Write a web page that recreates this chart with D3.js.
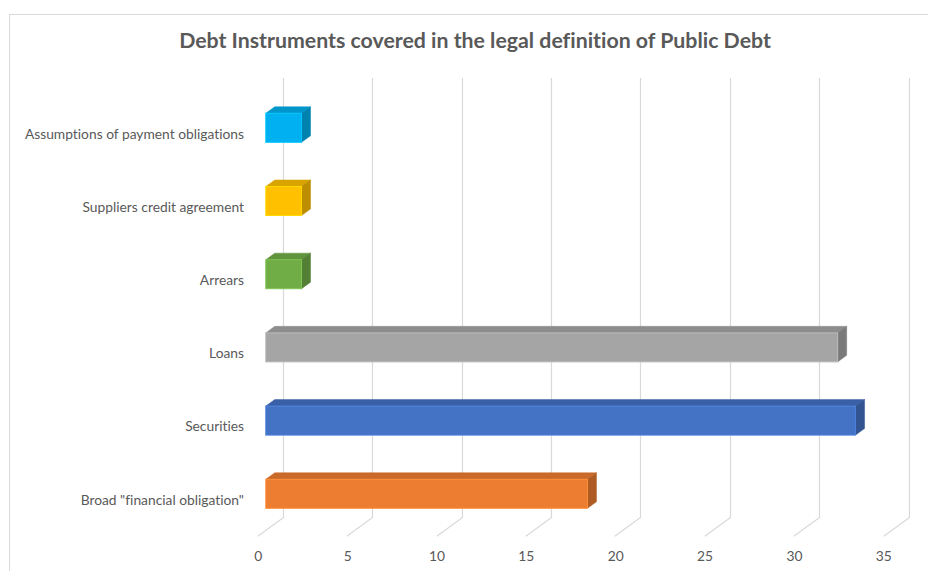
<!DOCTYPE html>
<html>
<head>
<meta charset="utf-8">
<script src="https://cdn.jsdelivr.net/npm/d3@7"></script>
<style>
  html, body { margin: 0; padding: 0; background: #fff; }
  svg { display: block; }
  text { font-variant-ligatures: none; font-feature-settings: "liga" 0; }
</style>
</head>
<body>
<script>
// ---- Data ----
const categories = [
  "Assumptions of payment obligations",
  "Suppliers credit agreement",
  "Arrears",
  "Loans",
  "Securities",
  "Broad \"financial obligation\""
];
const values = [2, 2, 2, 32, 33, 18];
const barColors = ["#00B0F0", "#FFC000", "#70AD47", "#A5A5A5", "#4472C4", "#ED7D31"];
const tickValues = [0, 5, 10, 15, 20, 25, 30, 35];
const title = "Debt Instruments covered in the legal definition of Public Debt";

// ---- Layout ----
const W = 928, H = 571;
const svg = d3.select("body").append("svg").attr("width", W).attr("height", H);

// chart border (clipped by the window at right/bottom)
svg.append("rect")
  .attr("x", 9.5).attr("y", 14.5)
  .attr("width", 930).attr("height", 570)
  .attr("fill", "none").attr("stroke", "#d9d9d9").attr("stroke-width", 1);

const textColor = "#595959";
const gridColor = "#d9d9d9";

// value scale on the back wall plane
const backX0 = 283;
const x = d3.scaleLinear().domain([0, 35]).range([backX0, backX0 + 625.5]);
// depth of the floor (front -> back): dx, dy
const depthDX = 25.7, depthDY = -18.7;
const gridTop = 78, gridBottom = 517.5;

// bars: front face at depth fraction f1, back at f2
const f1 = 0.33, f2 = 0.68;

const y = d3.scalePoint().domain(categories).range([127.8, 493.8]);
const barH = 29;

// gridlines
const grid = svg.append("g");
tickValues.forEach(v => {
  const bx = Math.round(x(v)) + 0.5;
  grid.append("path")
    .attr("d", `M${bx},${gridTop} L${bx},${gridBottom} L${bx - depthDX},${gridBottom - depthDY}`)
    .attr("fill", "none").attr("stroke", gridColor).attr("stroke-width", 1.2);
});

// tick labels (front)
svg.append("g").selectAll("text").data(tickValues).join("text")
  .attr("x", d => x(d) - depthDX + 1)
  .attr("y", 556)
  .attr("dy", "0.35em")
  .attr("text-anchor", "middle")
  .attr("font-family", "Lato, 'Open Sans', sans-serif")
  .attr("font-size", 13.8)
  .attr("fill", textColor)
  .text(d => d);

// bars
const bars = svg.append("g");
categories.forEach((c, i) => {
  const col = d3.color(barColors[i]);
  const topCol = col.darker(0.45);
  const sideCol = col.darker(0.85);
  const edgeCol = col.brighter(0.35);
  const fx = (v) => x(v) - depthDX * (1 - f1);
  const ox = depthDX * (f2 - f1), oy = depthDY * (f2 - f1);
  const x0 = fx(0), x1 = fx(values[i]);
  const yTop = y(c) - barH / 2, yBot = y(c) + barH / 2;
  // top face
  bars.append("path")
    .attr("d", `M${x0},${yTop} L${x0 + ox},${yTop + oy} L${x1 + ox},${yTop + oy} L${x1},${yTop} Z`)
    .attr("fill", topCol).attr("stroke", topCol).attr("stroke-width", 0.5);
  // right side face
  bars.append("path")
    .attr("d", `M${x1},${yTop} L${x1 + ox},${yTop + oy} L${x1 + ox},${yBot + oy} L${x1},${yBot} Z`)
    .attr("fill", sideCol).attr("stroke", sideCol).attr("stroke-width", 0.5);
  // front face
  bars.append("rect")
    .attr("x", x0).attr("y", yTop)
    .attr("width", x1 - x0).attr("height", barH)
    .attr("fill", col).attr("stroke", edgeCol).attr("stroke-width", 1);
});

// category labels
svg.append("g").selectAll("text").data(categories).join("text")
  .attr("x", 244)
  .attr("y", d => y(d) + 6)
  .attr("dy", "0.35em")
  .attr("text-anchor", "end")
  .attr("font-family", "Lato, 'Open Sans', sans-serif")
  .attr("font-size", 13.8)
  .attr("fill", textColor)
  .text(d => d);

// title
svg.append("text")
  .attr("x", 475).attr("y", 48)
  .attr("text-anchor", "middle")
  .attr("font-family", "Lato, 'Open Sans', sans-serif")
  .attr("font-weight", "bold")
  .attr("font-size", 21.3)
  .attr("fill", textColor)
  .text(title);
</script>
</body>
</html>
